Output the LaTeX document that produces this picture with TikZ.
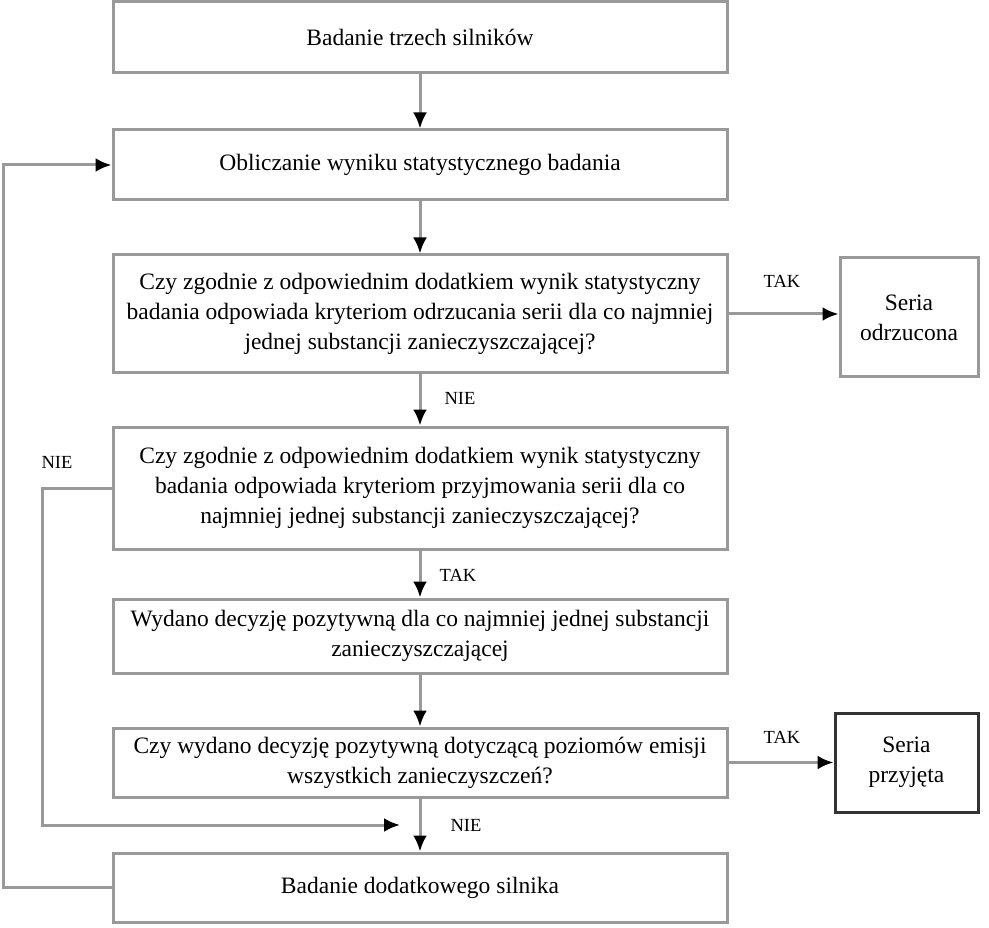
\documentclass[tikz,border=0pt]{standalone}
\usepackage{fontspec}
\setmainfont{Liberation Serif}
\usetikzlibrary{arrows.meta}
\definecolor{linegray}{gray}{0.6}
\tikzset{
  box/.style={draw=linegray, line width=3pt, rectangle, minimum width=614pt, inner sep=0pt, align=center, font=\fontsize{23.5}{30}\selectfont},
  sidebox/.style={draw=linegray, line width=3pt, rectangle, inner sep=0pt, align=center, font=\fontsize{23.5}{30}\selectfont},
  conn/.style={draw=linegray, line width=3pt, -{Latex[black,length=16pt,width=14pt]}},
  lab/.style={font=\fontsize{18.5}{20}\selectfont, inner sep=0pt}
}
\begin{document}
\begin{tikzpicture}[x=1pt,y=-1pt]
\useasboundingbox (0,0) rectangle (989,928);
\node[box, minimum height=71pt] (b1) at (420,37.5) {Badanie trzech silników};
\node[box, minimum height=70pt] (b2) at (420,165) {Obliczanie wyniku statystycznego badania};
\node[box, minimum height=118pt] (b3) at (420,314) {Czy zgodnie z odpowiednim dodatkiem wynik statystyczny\\badania odpowiada kryteriom odrzucania serii dla co najmniej\\jednej substancji zanieczyszczającej?};
\node[box, minimum height=122pt] (b4) at (420,488) {Czy zgodnie z odpowiednim dodatkiem wynik statystyczny\\badania odpowiada kryteriom przyjmowania serii dla co\\najmniej jednej substancji zanieczyszczającej?};
\node[box, minimum height=74pt] (b5) at (420,636) {Wydano decyzję pozytywną dla co najmniej jednej substancji\\zanieczyszczającej};
\node[box, minimum height=69pt] (b6) at (420,762.5) {Czy wydano decyzję pozytywną dotyczącą poziomów emisji\\wszystkich zanieczyszczeń?};
\node[box, minimum height=69pt] (b7) at (420,887.5) {Badanie dodatkowego silnika};
\node[sidebox, minimum width=138pt, minimum height=119pt] (r1) at (909,317.5) {Seria\\odrzucona};
\node[sidebox, draw=black!80, minimum width=143pt, minimum height=99pt] (r2) at (906.5,762.5) {Seria\\przyjęta};
\coordinate (m) at (400,825);
\draw[conn] (b1.south) -- (b2.north);
\draw[conn] (b2.south) -- (b3.north);
\draw[conn] (b3.south) -- (b4.north);
\draw[conn] (b4.south) -- (b5.north);
\draw[conn] (b5.south) -- (b6.north);
\draw[conn] (b6.south) -- (b7.north);
\draw[conn] (b3.east) -- (b3.east -| r1.west);
\draw[conn] (b6.east) -- (b6.east -| r2.west);
\draw[conn] (b4.west) -- (42,488) -- (42,825) -- (m);
\draw[conn] (b7.west) -- (3,887.5) -- (3,165) -- (b2.west);
\node[lab] (l1) at (782,281) {TAK};
\node[lab] (l2) at (782,737) {TAK};
\node[lab] (l3) at (460,398) {NIE};
\node[lab] (l4) at (458,575) {TAK};
\node[lab] (l5) at (466,825) {NIE};
\node[lab] (l6) at (57,462) {NIE};
\end{tikzpicture}
\end{document}
